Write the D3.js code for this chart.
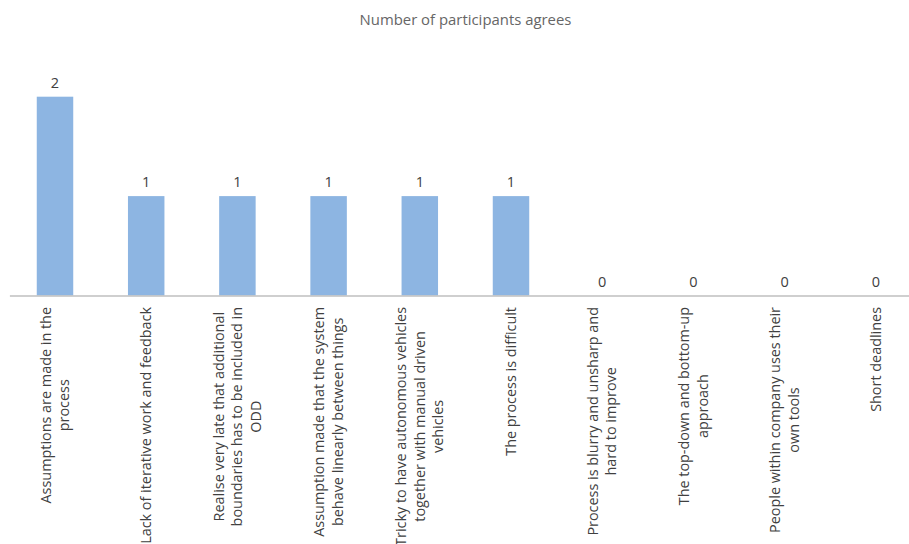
<!DOCTYPE html>
<html>
<head>
<meta charset="utf-8">
<script src="https://cdn.jsdelivr.net/npm/d3@7"></script>
<style>
  html, body { margin: 0; padding: 0; background: #fff; }
  svg { display: block; }
  text { font-family: "Open Sans", "Noto Sans", sans-serif; }
</style>
</head>
<body>
<svg id="chart" width="909" height="544"></svg>
<script>
// Category labels ("\n" marks a line break in the axis label)
const categories = [
  "Assumptions are made in the\nprocess",
  "Lack of iterative work and feedback",
  "Realise very late that additional\nboundaries has to be included in\nODD",
  "Assumption made that the system\nbehave linearly between things",
  "Tricky to have autonomous vehicles\ntogether with manual driven\nvehicles",
  "The process is difficult",
  "Process is blurry and unsharp and\nhard to improve",
  "The top-down and bottom-up\napproach",
  "People within company uses their\nown tools",
  "Short deadlines"
];
const values = [2, 1, 1, 1, 1, 1, 0, 0, 0, 0];
const chartTitle = "Number of participants agrees";

const svg = d3.select("#chart");

const x = d3.scaleBand()
  .domain(categories)
  .range([9.4, 921.4])
  .paddingInner(0.6)
  .paddingOuter(0.3);

const y = d3.scaleLinear()
  .domain([0, 2])
  .range([295.5, 96.7]);

// Title
svg.append("text")
  .attr("x", 465.5)
  .attr("y", 25)
  .attr("text-anchor", "middle")
  .attr("font-size", 14.9)
  .attr("fill", "#666")
  .text(chartTitle);

// Bars
svg.append("g")
  .selectAll("rect")
  .data(values)
  .join("rect")
  .attr("x", (d, i) => x(categories[i]))
  .attr("width", x.bandwidth())
  .attr("y", d => y(d))
  .attr("height", d => y(0) - y(d))
  .attr("fill", "#8db5e2");

// Value labels
svg.append("g")
  .selectAll("text")
  .data(values)
  .join("text")
  .attr("x", (d, i) => x(categories[i]) + x.bandwidth() / 2)
  .attr("y", d => y(d) - 9)
  .attr("text-anchor", "middle")
  .attr("font-size", 14.5)
  .attr("fill", "#404040")
  .text(d => d);

// Category axis
const xAxis = svg.append("g")
  .attr("transform", `translate(0,${y(0)})`)
  .call(d3.axisBottom(x).tickSize(0).tickFormat(""));
xAxis.select(".domain")
  .attr("stroke", "#bfbfbf")
  .attr("stroke-width", 1.5);

// Rotated, multi-line category labels, centred on each bar
const labelTop = 307;
const lineHeight = 18.5;
const labels = svg.append("g")
  .selectAll("g")
  .data(categories)
  .join("g");

labels.each(function(cat) {
  const lines = cat.split("\n");
  const cx = x(cat) + x.bandwidth() / 2;
  const g = d3.select(this);
  const t = g.append("text")
    .attr("font-size", 14.4)
    .attr("fill", "#404040")
    .attr("text-anchor", "middle");
  const spans = lines.map((ln, i) =>
    t.append("tspan")
      .attr("y", (i - (lines.length - 1) / 2) * lineHeight)
      .attr("dy", "0.35em")
      .text(ln)
  );
  const maxLen = d3.max(spans, s => s.node().getComputedTextLength());
  spans.forEach(s => s.attr("x", -maxLen / 2));
  g.attr("transform", `translate(${cx},${labelTop}) rotate(-90)`);
});
</script>
</body>
</html>
